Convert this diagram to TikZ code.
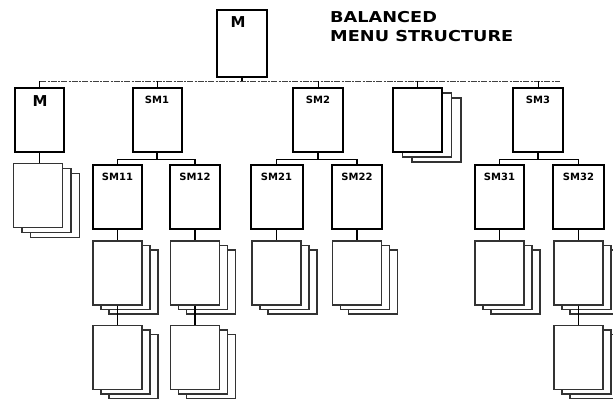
\documentclass[tikz,border=0pt]{standalone}
\usepackage{fontspec}
\setmainfont{DejaVu Sans}
\begin{document}
\begin{tikzpicture}[x=1pt,y=-1pt,
  mbox/.style={draw=black,line width=2pt,fill=white,inner sep=0pt,minimum width=49pt,minimum height=64pt},
  pgfront/.style={draw=black!80,line width=1.4pt,fill=white,inner sep=0pt,minimum width=49pt,minimum height=64pt},
  pgback/.style={draw=black!80,line width=1.3pt,fill=white,inner sep=0pt,minimum width=49pt,minimum height=64pt},
  link/.style={draw=black,line width=1.3pt},
  bus/.style={draw=black!75,line width=0.8pt,dash pattern=on 6pt off 1.5pt on 2pt off 1pt},
  lbl/.style={font=\fontsize{15}{15}\bfseries\selectfont,inner sep=0pt,anchor=base},
  slbl/.style={font=\fontsize{10}{10}\bfseries\selectfont,inner sep=0pt,anchor=base},
  ttl/.style={font=\fontsize{15}{15}\bfseries\selectfont,inner sep=0pt,anchor=base west,xscale=1.18}]
\useasboundingbox (0,0) rectangle (613,403);
\newcommand{\pgstack}[6]{%
  \node[pgback] at ({#2+2*#4},{#3+2*#5}) {};
  \node[pgback] at ({#2+#4},{#3+#5}) {};
  \node[#6] (#1) at (#2,#3) {};}
% top
\node[mbox,minimum width=50pt,minimum height=67pt] (T) at (242,43.5) {};
\node[lbl] (Tl) at (238,28) {M};
\node[ttl] (t1) at (330,23) {BALANCED};
\node[ttl] (t2) at (330,42) {MENU STRUCTURE};
% level 1
\node[mbox] (a) at (39.5,120) {};
\node[mbox] (b) at (157,120) {};
\node[mbox,minimum width=50pt] (c) at (318,120) {};
\pgstack{d}{417.5}{120}{9.5}{5}{mbox}
\node[mbox,minimum width=50pt] (e) at (538,120) {};
\node[lbl] (al) at (40,107) {M};
\node[slbl] (bl) at (157,104) {SM1};
\node[slbl] (cl) at (318,104) {SM2};
\node[slbl] (el) at (538,104) {SM3};
% bus
\coordinate (busL) at (40,81);
\coordinate (busR) at (560,81);
\draw[bus] (busL) -- (busR);
\draw[link] (T.south) -- (T.south |- busL);
\foreach \n in {a,b,c,d,e} \draw[link,line width=0.6pt] (\n.north |- busL) -- (\n.north);
% stack under M
\pgstack{a1}{38}{195.5}{8.5}{5}{pgfront}
\draw[link] (a.south) -- (a.south |- a1.north);
% level 2
\node[mbox] (b1) at (117.5,197.5) {};
\node[mbox,minimum width=50pt] (b2) at (195,197.5) {};
\node[mbox,minimum width=52pt] (c1) at (276.5,197) {};
\node[mbox,minimum width=50pt] (c2) at (357,197) {};
\node[mbox] (e1) at (499.5,197) {};
\node[mbox,minimum width=51pt] (e2) at (578.5,197) {};
\node[slbl] (b1l) at (117.5,181) {SM11};
\node[slbl] (b2l) at (195,181) {SM12};
\node[slbl] (c1l) at (276.5,181) {SM21};
\node[slbl] (c2l) at (357,181) {SM22};
\node[slbl] (e1l) at (499.5,181) {SM31};
\node[slbl] (e2l) at (578.5,181) {SM32};
\foreach \p/\l/\r in {b/b1/b2,c/c1/c2,e/e1/e2}{
  \draw[link] (\p.south) -- ++(0,6.5) coordinate (\p j);
  \draw[link] (\l.north) |- (\p j) -| (\r.north);
}
% level 3 stacks
\foreach \n/\x in {b1/117.5,b2/195,c1/276.5,c2/357,e1/499.5,e2/578.5}{
  \pgstack{\n s}{\x}{273}{8}{4.5}{pgfront}
  \draw[link] (\n.south) -- (\n s.north);
}
% level 4 stacks
\foreach \n/\x in {b1/117.5,b2/195,e2/578.5}{
  \pgstack{\n t}{\x}{357.5}{8}{4.5}{pgfront}
  \draw[link] (\n s.south) -- (\n t.north);
}
\end{tikzpicture}
\end{document}
